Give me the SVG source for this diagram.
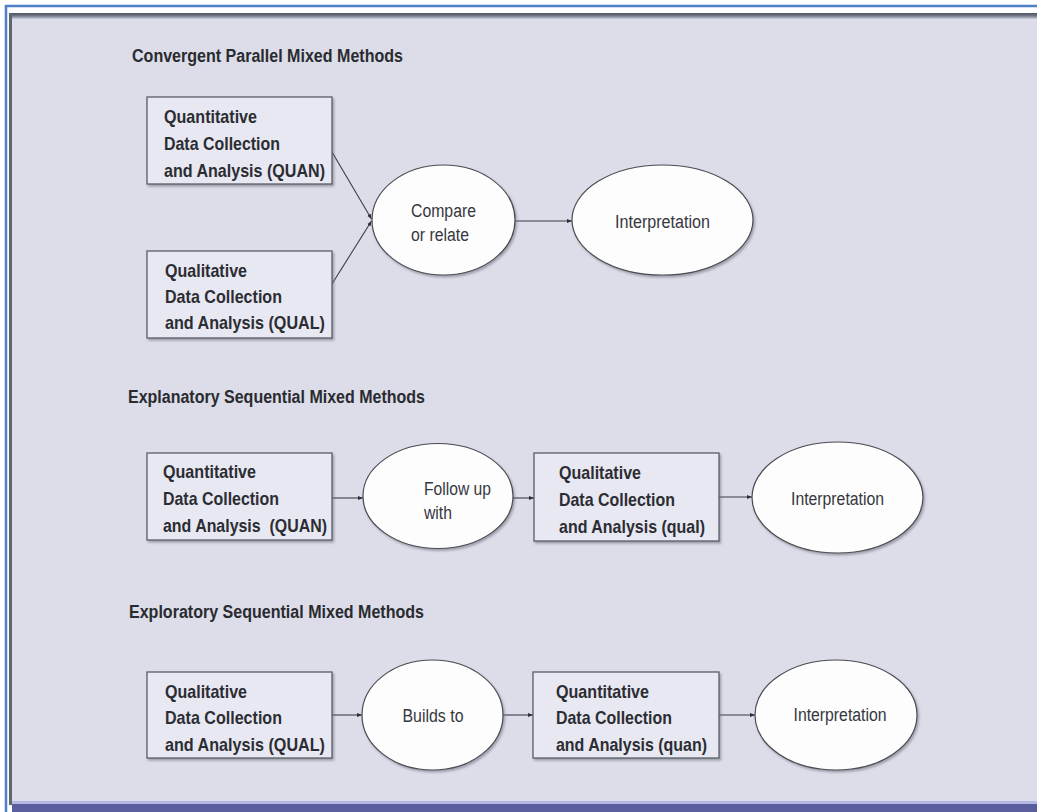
<svg xmlns="http://www.w3.org/2000/svg" width="1037" height="812" viewBox="0 0 1037 812">
  <defs>
    <style>
      .frame-bg { fill: #dcdde9; }
      .box { fill: #e7e8f2; stroke: #5a5d66; stroke-width: 1.3; filter: url(#shadow); }
      .oval { fill: #fdfdfe; stroke: #4a4c52; stroke-width: 1.2; filter: url(#shadow); }
      .title { font-family: "Liberation Sans", Arial, sans-serif; font-weight: bold; font-size: 18px; fill: #2a2b30; }
      .btxt { font-family: "Liberation Sans", Arial, sans-serif; font-weight: bold; font-size: 18.6px; fill: #2c2d33; }
      .otxt { font-family: "Liberation Sans", Arial, sans-serif; font-size: 18px; fill: #36373d; }
      .mid { text-anchor: middle; }
      .link { fill: none; stroke: #3c3d44; stroke-width: 1.1; marker-end: url(#tip); }
    </style>
    <marker id="tip" viewBox="0 0 10 10" refX="10" refY="5" markerWidth="5" markerHeight="5" markerUnits="userSpaceOnUse" orient="auto">
      <path d="M0,1 L10,5 L0,9 Z" fill="#2e2f35"/>
    </marker>
    <filter id="shadow" x="-10%" y="-10%" width="125%" height="130%">
      <feDropShadow dx="1.5" dy="2" stdDeviation="1.2" flood-color="#6a6c78" flood-opacity="0.55"/>
    </filter>
    <linearGradient id="topband" x1="0" y1="0" x2="0" y2="1">
      <stop offset="0" stop-color="#4a5260"/>
      <stop offset="0.5" stop-color="#737b88"/>
      <stop offset="1" stop-color="#cfd3e3"/>
    </linearGradient>
  </defs>

  <!-- page frame -->
  <rect x="0" y="0" width="1037" height="812" fill="#ffffff"/>
  <rect x="10" y="13" width="1027" height="792" class="frame-bg"/>
  <rect x="10" y="13" width="1027" height="6" fill="url(#topband)"/>
  <rect x="9" y="13" width="3" height="792" fill="#5f6672"/>
  <line x1="5" y1="6" x2="1037" y2="6" stroke="#4d80c6" stroke-width="2.5"/>
  <line x1="6" y1="5" x2="6" y2="812" stroke="#4d80c6" stroke-width="2.5"/>
  <rect x="12" y="801" width="1025" height="3" fill="#b3b9e2"/>
  <rect x="12" y="804" width="1025" height="8" fill="#5a5e9f"/>

  <!-- section headings -->
  <g id="headings">
    <text class="title" x="132" y="62" textLength="271" lengthAdjust="spacingAndGlyphs">Convergent Parallel Mixed Methods</text>
    <text class="title" x="128" y="403" textLength="297" lengthAdjust="spacingAndGlyphs">Explanatory Sequential Mixed Methods</text>
    <text class="title" x="129" y="618" textLength="295" lengthAdjust="spacingAndGlyphs">Exploratory Sequential Mixed Methods</text>
  </g>

  <!-- connectors -->
  <g id="connectors">
    <line class="link" x1="332" y1="152" x2="371.5" y2="219"/>
    <line class="link" x1="332" y1="284" x2="371.5" y2="221"/>
    <line class="link" x1="515" y1="221" x2="572" y2="221"/>
    <line class="link" x1="332" y1="498" x2="363" y2="498"/>
    <line class="link" x1="513" y1="498" x2="534" y2="498"/>
    <line class="link" x1="719" y1="497" x2="752" y2="497"/>
    <line class="link" x1="332" y1="715" x2="362" y2="715"/>
    <line class="link" x1="503" y1="715" x2="533" y2="715"/>
    <line class="link" x1="719" y1="715" x2="755" y2="715"/>
  </g>

  <!-- convergent parallel -->
  <g id="cp-quan">
    <rect class="box" x="147" y="97" width="185" height="87"/>
    <text class="btxt" x="164" y="123" textLength="93" lengthAdjust="spacingAndGlyphs">Quantitative</text>
    <text class="btxt" x="164" y="150" textLength="116" lengthAdjust="spacingAndGlyphs">Data Collection</text>
    <text class="btxt" x="164" y="177" textLength="161" lengthAdjust="spacingAndGlyphs">and Analysis (QUAN)</text>
  </g>
  <g id="cp-qual">
    <rect class="box" x="147" y="251" width="185" height="87"/>
    <text class="btxt" x="165" y="277" textLength="82" lengthAdjust="spacingAndGlyphs">Qualitative</text>
    <text class="btxt" x="165" y="303" textLength="117" lengthAdjust="spacingAndGlyphs">Data Collection</text>
    <text class="btxt" x="165" y="329" textLength="160" lengthAdjust="spacingAndGlyphs">and Analysis (QUAL)</text>
  </g>
  <g id="cp-compare">
    <ellipse class="oval" cx="443.5" cy="220" rx="71.5" ry="55"/>
    <text class="otxt" x="411" y="217" textLength="65" lengthAdjust="spacingAndGlyphs">Compare</text>
    <text class="otxt" x="411" y="241" textLength="58" lengthAdjust="spacingAndGlyphs">or relate</text>
  </g>
  <g id="cp-interp">
    <ellipse class="oval" cx="662.5" cy="220" rx="90.5" ry="55"/>
    <text class="otxt mid" x="662.5" y="228" textLength="95" lengthAdjust="spacingAndGlyphs">Interpretation</text>
  </g>

  <!-- explanatory sequential -->
  <g id="es-quan">
    <rect class="box" x="147" y="453" width="185" height="87"/>
    <text class="btxt" x="163" y="478" textLength="93" lengthAdjust="spacingAndGlyphs">Quantitative</text>
    <text class="btxt" x="163" y="505" textLength="116" lengthAdjust="spacingAndGlyphs">Data Collection</text>
    <text class="btxt" x="163" y="532" textLength="164" lengthAdjust="spacingAndGlyphs">and Analysis&#160; (QUAN)</text>
  </g>
  <g id="es-follow">
    <ellipse class="oval" cx="438" cy="496" rx="75" ry="52.5"/>
    <text class="otxt" x="424" y="495" textLength="67" lengthAdjust="spacingAndGlyphs">Follow up</text>
    <text class="otxt" x="424" y="519" textLength="28" lengthAdjust="spacingAndGlyphs">with</text>
  </g>
  <g id="es-qual">
    <rect class="box" x="534" y="453" width="185" height="88"/>
    <text class="btxt" x="559" y="479" textLength="82" lengthAdjust="spacingAndGlyphs">Qualitative</text>
    <text class="btxt" x="559" y="506" textLength="116" lengthAdjust="spacingAndGlyphs">Data Collection</text>
    <text class="btxt" x="559" y="533" textLength="146" lengthAdjust="spacingAndGlyphs">and Analysis (qual)</text>
  </g>
  <g id="es-interp">
    <ellipse class="oval" cx="837.5" cy="497.5" rx="85.5" ry="55.5"/>
    <text class="otxt mid" x="837.5" y="505" textLength="93" lengthAdjust="spacingAndGlyphs">Interpretation</text>
  </g>

  <!-- exploratory sequential -->
  <g id="xs-qual">
    <rect class="box" x="147" y="672" width="185" height="86"/>
    <text class="btxt" x="165" y="698" textLength="82" lengthAdjust="spacingAndGlyphs">Qualitative</text>
    <text class="btxt" x="165" y="724" textLength="117" lengthAdjust="spacingAndGlyphs">Data Collection</text>
    <text class="btxt" x="165" y="751" textLength="160" lengthAdjust="spacingAndGlyphs">and Analysis (QUAL)</text>
  </g>
  <g id="xs-builds">
    <ellipse class="oval" cx="432.5" cy="715" rx="70.5" ry="55"/>
    <text class="otxt mid" x="433" y="722" textLength="61" lengthAdjust="spacingAndGlyphs">Builds to</text>
  </g>
  <g id="xs-quan">
    <rect class="box" x="533" y="672" width="186" height="86"/>
    <text class="btxt" x="556" y="698" textLength="93" lengthAdjust="spacingAndGlyphs">Quantitative</text>
    <text class="btxt" x="556" y="724" textLength="116" lengthAdjust="spacingAndGlyphs">Data Collection</text>
    <text class="btxt" x="556" y="751" textLength="151" lengthAdjust="spacingAndGlyphs">and Analysis (quan)</text>
  </g>
  <g id="xs-interp">
    <ellipse class="oval" cx="836" cy="715" rx="81" ry="55"/>
    <text class="otxt mid" x="840" y="721" textLength="93" lengthAdjust="spacingAndGlyphs">Interpretation</text>
  </g>
</svg>
